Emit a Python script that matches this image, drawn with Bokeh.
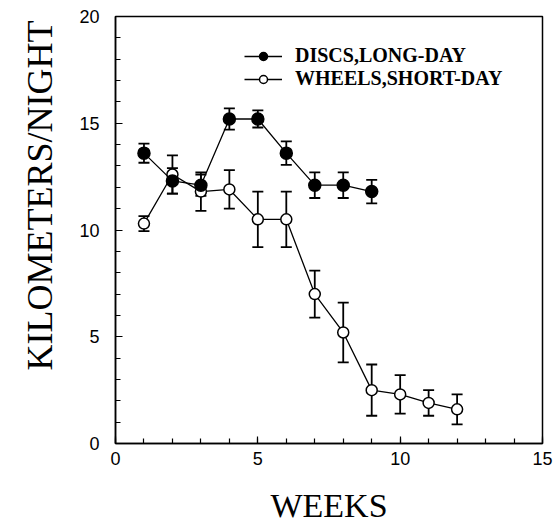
from bokeh.plotting import figure
from bokeh.models import (Range1d, SingleIntervalTicker, ColumnDataSource, Whisker,
                          TeeHead, Legend, LegendItem, Title)
from bokeh.embed import file_html
from bokeh.resources import INLINE

# ---- data ----
weeks_discs = [1, 2, 3, 4, 5, 6, 7, 8, 9]
discs_mean = [13.6, 12.3, 12.1, 15.2, 15.2, 13.6, 12.1, 12.1, 11.8]
discs_err = [0.45, 0.6, 0.5, 0.5, 0.4, 0.55, 0.6, 0.6, 0.55]

weeks_wheels = [1, 2, 3, 4, 5, 6, 7, 8, 9, 10, 11, 12]
wheels_mean = [10.3, 12.6, 11.8, 11.9, 10.5, 10.5, 7.0, 5.2, 2.5, 2.3, 1.9, 1.6]
wheels_err = [0.35, 0.9, 0.9, 0.9, 1.3, 1.3, 1.1, 1.4, 1.2, 0.9, 0.6, 0.7]

label_discs = "DISCS,LONG-DAY"
label_wheels = "WHEELS,SHORT-DAY"
x_title = "WEEKS"
y_title = "KILOMETERS/NIGHT"

SERIF = "Liberation Serif"
SANS = "Liberation Sans"

p = figure(width=557, height=527, output_backend="svg", toolbar_location=None,
           x_range=Range1d(0, 15), y_range=Range1d(0, 20),
           min_border_left=115, min_border_right=15, min_border_top=16, min_border_bottom=84)
p.xgrid.visible = False
p.ygrid.visible = False
p.outline_line_color = "black"
p.outline_line_width = 1.5
p.background_fill_color = "white"
p.border_fill_color = "white"

for ax in (p.xaxis[0], p.yaxis[0]):
    ax.ticker = SingleIntervalTicker(interval=5, num_minor_ticks=5)
    ax.major_tick_in = 7
    ax.major_tick_out = 0
    ax.minor_tick_in = 5
    ax.minor_tick_out = 0
    ax.axis_line_width = 1.5
    ax.major_tick_line_width = 1.2
    ax.minor_tick_line_width = 1.2
    ax.major_label_text_font = SANS
    ax.major_label_text_font_size = "18px"
    ax.major_label_text_color = "black"
    ax.axis_label_text_font = SERIF
    ax.axis_label_text_font_style = "normal"
    ax.axis_label_text_font_size = "34px"
    ax.axis_label_text_color = "black"

p.xaxis.axis_label = x_title
p.xaxis.major_label_standoff = 8
p.yaxis.major_label_standoff = 16
p.xaxis.axis_label_standoff = 19

# y title as a vertical title in the left panel (sits above the frame's centre)
ytitle = Title(text=y_title, align="left", offset=73, standoff=34,
               vertical_align="bottom", text_line_height=0.65,
               text_font=SERIF, text_font_size="36px", text_font_style="normal",
               text_color="black")
p.add_layout(ytitle, "left")

src_d = ColumnDataSource(dict(x=weeks_discs, y=discs_mean,
                              lo=[m - e for m, e in zip(discs_mean, discs_err)],
                              hi=[m + e for m, e in zip(discs_mean, discs_err)]))
src_w = ColumnDataSource(dict(x=weeks_wheels, y=wheels_mean,
                              lo=[m - e for m, e in zip(wheels_mean, wheels_err)],
                              hi=[m + e for m, e in zip(wheels_mean, wheels_err)]))

for src in (src_d, src_w):
    w = Whisker(base="x", upper="hi", lower="lo", source=src, level="underlay",
                line_color="black", line_width=1.8,
                upper_head=TeeHead(size=11, line_color="black", line_width=1.8),
                lower_head=TeeHead(size=11, line_color="black", line_width=1.8))
    p.add_layout(w)

ld = p.line("x", "y", source=src_d, line_color="black", line_width=1.3)
lw = p.line("x", "y", source=src_w, line_color="black", line_width=1.3)
sw = p.scatter("x", "y", source=src_w, marker="circle", size=11,
               fill_color="white", line_color="black", line_width=1.5)
sd = p.scatter("x", "y", source=src_d, marker="circle", size=12,
               fill_color="black", line_color="black", line_width=1.5)

legend = Legend(items=[LegendItem(label=label_discs, renderers=[ld, sd]),
                       LegendItem(label=label_wheels, renderers=[lw, sw])],
                location=(129, 353), orientation="vertical",
                border_line_color=None, background_fill_alpha=0,
                label_text_font=SERIF, label_text_font_style="bold",
                label_text_font_size="20px", label_text_color="black",
                glyph_width=38, glyph_height=20, label_height=22,
                label_standoff=13, spacing=0, padding=4, margin=0)
p.add_layout(legend)

open("out.html", "w").write(file_html(p, INLINE))
